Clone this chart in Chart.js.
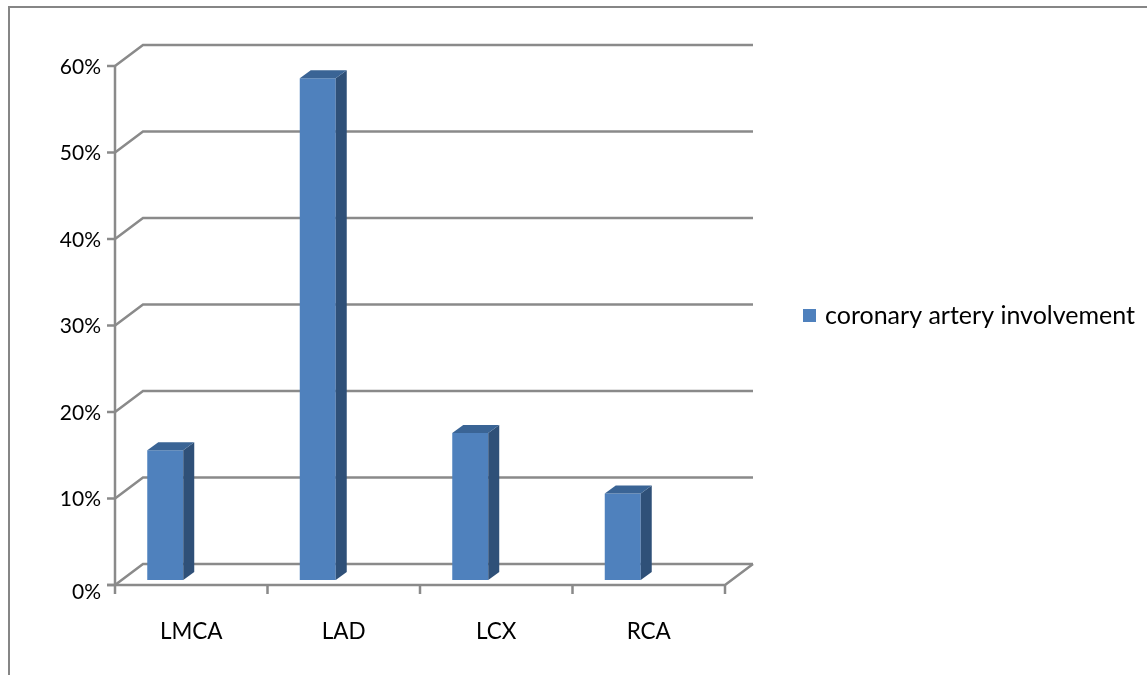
<!DOCTYPE html>
<html>
<head>
<meta charset="utf-8">
<script src="https://cdn.jsdelivr.net/npm/chart.js@4/dist/chart.umd.min.js"></script>
<style>
  html, body { margin: 0; padding: 0; background: #ffffff; }
  canvas { display: block; }
</style>
</head>
<body>
<canvas id="chart" width="1147" height="675"></canvas>
<script>
// Share of patients with involvement of each coronary artery
const categories = ['LMCA', 'LAD', 'LCX', 'RCA'];
const involvement = [0.15, 0.58, 0.17, 0.10];
const seriesLabel = 'coronary artery involvement';
const yTickValues = [0, 0.1, 0.2, 0.3, 0.4, 0.5, 0.6];

const FONT = 'Lato, "Open Sans", "Noto Sans", sans-serif';
const LINE = '#8a8a8a';
const BAR_FRONT = '#4f81bd';
const BAR_SIDE = '#2f5078';
const BAR_TOP = '#3a6495';

// Pseudo-3D geometry (pixels)
const FRONT_SHIFT = { dx: 26, dy: 5 };    // front floor/axis plane relative to the bar plane
const WALL_DEPTH = { dx: 28, dy: -21 };   // back wall relative to the front plane
const BAR_DEPTH = { dx: 11, dy: -8 };     // visible depth of each column

const pct = v => Math.round(v * 100) + '%';

const walls = {
  id: 'walls',
  beforeDraw(chart) {
    const { ctx } = chart;
    ctx.save();
    ctx.strokeStyle = '#868686';
    ctx.lineWidth = 2;
    ctx.strokeRect(9, 7, chart.width + 20, chart.height + 20);
    ctx.restore();
  },
  beforeDatasetsDraw(chart) {
    const { ctx, scales: { x, y } } = chart;
    const fl = x.left + FRONT_SHIFT.dx;
    const fr = x.right + FRONT_SHIFT.dx;
    const bl = fl + WALL_DEPTH.dx;
    const br = fr + WALL_DEPTH.dx;
    const fy = v => y.getPixelForValue(v) + FRONT_SHIFT.dy;
    ctx.save();
    ctx.strokeStyle = LINE;
    ctx.lineWidth = 2.5;
    ctx.lineCap = 'butt';
    // back wall gridlines with their side-wall diagonals
    y.ticks.forEach(t => {
      const f = fy(t.value), b = f + WALL_DEPTH.dy;
      ctx.beginPath();
      ctx.moveTo(fl, f);
      ctx.lineTo(bl, b);
      ctx.lineTo(br, b);
      ctx.stroke();
      // value tick on the front axis
      ctx.beginPath();
      ctx.moveTo(fl - 8, f);
      ctx.lineTo(fl, f);
      ctx.stroke();
    });
    // value labels, right-aligned left of the front axis
    ctx.fillStyle = '#000000';
    ctx.font = '21px ' + FONT;
    ctx.textAlign = 'right';
    ctx.textBaseline = 'middle';
    y.ticks.forEach(t => {
      ctx.fillText(pct(t.value), fl - 14, fy(t.value) + (t.value === 0 ? 7 : 1));
    });
    // front value axis
    const f0 = fy(0), fTop = fy(y.max);
    ctx.beginPath();
    ctx.moveTo(fl, fTop);
    ctx.lineTo(fl, f0);
    ctx.stroke();
    // front floor edge and right floor diagonal
    ctx.beginPath();
    ctx.moveTo(fl - 8, f0);
    ctx.lineTo(fr, f0);
    ctx.lineTo(br, f0 + WALL_DEPTH.dy);
    ctx.stroke();
    // category tick marks
    for (let i = 0; i <= categories.length; i++) {
      const px = x.getPixelForValue(i - 0.5) + FRONT_SHIFT.dx;
      ctx.beginPath();
      ctx.moveTo(px, f0);
      ctx.lineTo(px, f0 + 9);
      ctx.stroke();
    }
    ctx.restore();
  },
  afterDatasetsDraw(chart) {
    const { ctx } = chart;
    const meta = chart.getDatasetMeta(0);
    ctx.save();
    meta.data.forEach(bar => {
      const { x, y, base, width } = bar.getProps(['x', 'y', 'base', 'width'], true);
      const l = x - width / 2, r = x + width / 2;
      // side face
      ctx.fillStyle = BAR_SIDE;
      ctx.beginPath();
      ctx.moveTo(r, y);
      ctx.lineTo(r + BAR_DEPTH.dx, y + BAR_DEPTH.dy);
      ctx.lineTo(r + BAR_DEPTH.dx, base + BAR_DEPTH.dy);
      ctx.lineTo(r, base);
      ctx.closePath();
      ctx.fill();
      // top face
      ctx.fillStyle = BAR_TOP;
      ctx.beginPath();
      ctx.moveTo(l, y);
      ctx.lineTo(l + BAR_DEPTH.dx, y + BAR_DEPTH.dy);
      ctx.lineTo(r + BAR_DEPTH.dx, y + BAR_DEPTH.dy);
      ctx.lineTo(r, y);
      ctx.closePath();
      ctx.fill();
    });
    ctx.restore();
  },
  afterDraw(chart) {
    // series legend
    const { ctx } = chart;
    const ds = chart.data.datasets[0];
    ctx.save();
    ctx.fillStyle = ds.backgroundColor;
    ctx.fillRect(803, 309, 13, 13);
    ctx.fillStyle = '#000000';
    ctx.font = '25px ' + FONT;
    ctx.textBaseline = 'middle';
    ctx.textAlign = 'left';
    ctx.fillText(ds.label, 825, 316);
    ctx.restore();
  }
};

new Chart(document.getElementById('chart'), {
  type: 'bar',
  data: {
    labels: categories,
    datasets: [{
      label: seriesLabel,
      data: involvement,
      backgroundColor: BAR_FRONT,
      borderWidth: 0,
      barPercentage: 0.236,
      categoryPercentage: 1
    }]
  },
  options: {
    responsive: false,
    animation: false,
    layout: { padding: { top: 61, right: 448, left: 0, bottom: 0 } },
    plugins: { legend: { display: false }, tooltip: { enabled: false } },
    scales: {
      x: {
        offset: true,
        grid: { display: false },
        border: { display: false },
        ticks: {
          color: '#000000',
          font: { family: FONT, size: 22.5 },
          labelOffset: FRONT_SHIFT.dx,
          padding: 30,
          maxRotation: 0
        },
        afterFit(s) { s.height = 95; }
      },
      y: {
        display: false,
        min: 0,
        max: 0.6,
        afterBuildTicks(s) { s.ticks = yTickValues.map(v => ({ value: v })); },
        afterFit(s) { s.width = 89; }
      }
    }
  },
  plugins: [walls]
});
</script>
</body>
</html>
